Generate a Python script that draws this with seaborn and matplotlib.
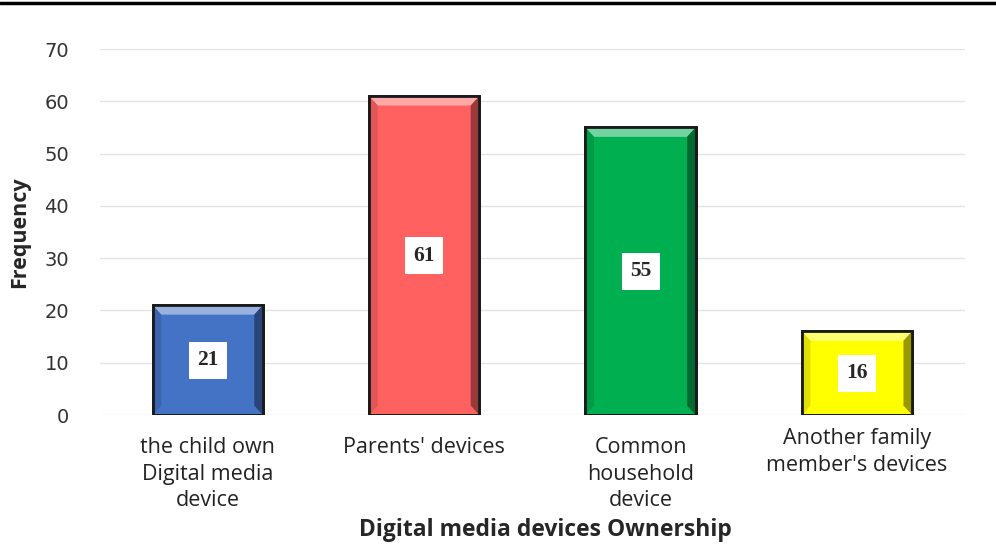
import pandas as pd
import seaborn as sns
import matplotlib.pyplot as plt
import matplotlib.colors as mcolors
from matplotlib.lines import Line2D
from matplotlib.patches import Polygon

categories = ["the child own\nDigital media\ndevice", "Parents' devices",
              "Common\nhousehold\ndevice", "Another family\nmember's devices"]
freq = [21, 61, 55, 16]
colors = ["#4472C4", "#FF6161", "#00B050", "#FFFF00"]

df = pd.DataFrame({'owner': categories, 'freq': freq})

sns.set_style('white')
plt.rcParams['font.family'] = ['Open Sans', 'DejaVu Sans']

fig = plt.figure(figsize=(9.96, 5.45), dpi=100)
ax = fig.add_axes([0.1, 0.2385, 0.869, 0.6715])

sns.barplot(data=df, x='owner', y='freq', hue='owner', palette=colors, saturation=1,
            width=0.51, edgecolor='#1a1a1a', linewidth=2, legend=False, ax=ax, zorder=2)

ax.set_ylim(0, 70)
ax.set_yticks(range(0, 71, 10))
ax.grid(axis='y', color='#e3e3e8', linewidth=1)
ax.set_axisbelow(True)
for s in ax.spines.values():
    s.set_visible(False)
ax.tick_params(axis='both', length=0)
ax.tick_params(axis='y', labelsize=14, pad=22, colors='#333333')
ax.tick_params(axis='x', pad=16, colors='#222222')
for t in ax.get_yticklabels():
    t.set_family('DejaVu Sans')
for t in ax.get_xticklabels():
    t.set_fontsize(15.5)
    t.set_linespacing(1.35)
ax.get_xticklabels()[3].set_y(0.025)

# bevel look on each bar, taken from the drawn patches
bx, by = 0.04, 1.8
for p, c in zip(ax.patches, colors):
    x0, w, h = p.get_x(), p.get_width(), p.get_height()
    x1 = x0 + w
    light = mcolors.to_rgb(c)
    light = tuple(v + (1 - v) * 0.45 for v in light)
    dark = tuple(v * 0.6 for v in mcolors.to_rgb(c))
    mid = tuple(v * 0.88 for v in mcolors.to_rgb(c))
    ax.add_patch(Polygon([(x0, h), (x1, h), (x1 - bx, h - by), (x0 + bx, h - by)],
                         closed=True, facecolor=light, edgecolor='none', zorder=3))
    ax.add_patch(Polygon([(x1, h), (x1, 0), (x1 - bx, by), (x1 - bx, h - by)],
                         closed=True, facecolor=dark, edgecolor='none', zorder=3))
    ax.add_patch(Polygon([(x0, h), (x0, 0), (x0 + bx, by), (x0 + bx, h - by)],
                         closed=True, facecolor=mid, edgecolor='none', zorder=3))
    ax.add_patch(Polygon([(x0, h), (x1, h), (x1, 0), (x0, 0)], closed=True,
                         facecolor='none', edgecolor='#1a1a1a', linewidth=2, zorder=4))

# value labels in white boxes at mid-height
for i, v in enumerate(freq):
    ax.text(i, v / 2, str(v), ha='center', va='center', fontsize=15.5,
            fontweight='bold', family=['Liberation Serif', 'DejaVu Serif'], zorder=5,
            bbox=dict(facecolor='white', edgecolor='none', pad=6))

ax.set_xlabel('Digital media devices Ownership', fontsize=16.5, fontweight='bold')
ax.set_ylabel('Frequency', fontsize=15.5, fontweight='bold')
ax.xaxis.set_label_coords(0.515, -0.282)
ax.yaxis.set_label_coords(-0.08, 0.5)

fig.add_artist(Line2D([0, 1], [0.994, 0.994], color='black', linewidth=2.5,
                      transform=fig.transFigure))

plt.savefig('out.png', dpi=100)
plt.close()
